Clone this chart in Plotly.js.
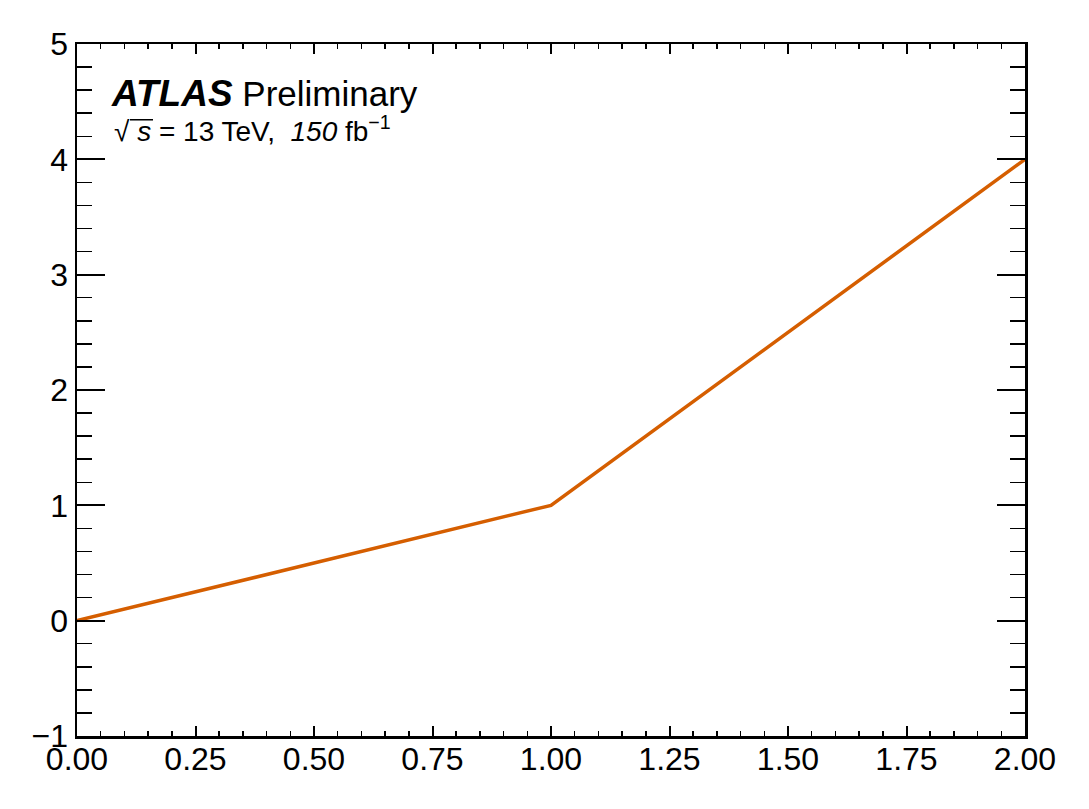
<!DOCTYPE html>
<html>
<head>
<meta charset="utf-8">
<script src="https://cdn.plot.ly/plotly-3.0.1.min.js"></script>
<style>
  body { margin: 0; background: #fff; }
  #chart { width: 1089px; height: 809px; }
</style>
</head>
<body>
<div id="chart"></div>
<script>
// data
let xValues = [0, 1, 2];
let yValues = [0, 1, 4];
let xTickVals = [0, 0.25, 0.5, 0.75, 1, 1.25, 1.5, 1.75, 2];
let yTickVals = [-1, 0, 1, 2, 3, 4, 5];

let chart = document.getElementById('chart');
let font = 'Liberation Sans, Arial, Helvetica, sans-serif';

let trace = {
    mode: 'lines',
    type: 'scatter',
    x: xValues,
    y: yValues,
    line: {color: '#d55e00', width: 3.5},
    hoverinfo: 'none'
};

let layout = {
    width: 1089,
    height: 809,
    margin: {l: 77, r: 64, t: 44, b: 73},
    paper_bgcolor: '#ffffff',
    plot_bgcolor: '#ffffff',
    showlegend: false,
    font: {family: font, color: '#000000', size: 32},
    xaxis: {
        range: [0, 2],
        tickvals: xTickVals,
        tickformat: '.2f',
        ticks: 'inside',
        ticklen: 10,
        tickwidth: 2,
        tickcolor: '#000',
        showline: true,
        linewidth: 2.5,
        linecolor: '#000',
        mirror: 'allticks',
        showgrid: false,
        zeroline: false,
        tickfont: {size: 32},
        ticklabelstandoff: -7,
        minor: {dtick: 0.05, ticks: 'inside', ticklen: 5, tickwidth: 1.5, tickcolor: '#000', showgrid: false}
    },
    yaxis: {
        range: [-1, 5],
        tickvals: yTickVals,
        ticks: 'inside',
        ticklen: 28,
        tickwidth: 2,
        tickcolor: '#000',
        showline: true,
        linewidth: 2.5,
        linecolor: '#000',
        mirror: 'allticks',
        showgrid: false,
        zeroline: false,
        tickfont: {size: 32},
        minor: {dtick: 0.2, ticks: 'inside', ticklen: 15, tickwidth: 1.5, tickcolor: '#000', showgrid: false}
    },
    annotations: [
        {
            xref: 'paper', yref: 'paper', x: 0.0335, y: 0.928,
            xanchor: 'left', yanchor: 'middle', showarrow: false,
            text: '<b><i><span style="font-size:37px">ATLAS</span></i></b> Preliminary',
            font: {size: 35, family: font}
        },
        {
            xref: 'paper', yref: 'paper', x: 0.037, y: 0.877,
            xanchor: 'left', yanchor: 'middle', showarrow: false,
            text: '√ <i>s</i> = 13 TeV,\u00a0 <i>150</i> fb<sup>−1</sup>',
            font: {size: 28, family: font}
        }
    ],
    shapes: [
        // overline of the square root
        {type: 'line', xref: 'paper', yref: 'paper', x0: 0.0559, x1: 0.0802, y0: 0.8905, y1: 0.8905,
            line: {color: '#000', width: 1.5}}
    ]
};

Plotly.newPlot(chart, [trace], layout, {staticPlot: true});
</script>
</body>
</html>
